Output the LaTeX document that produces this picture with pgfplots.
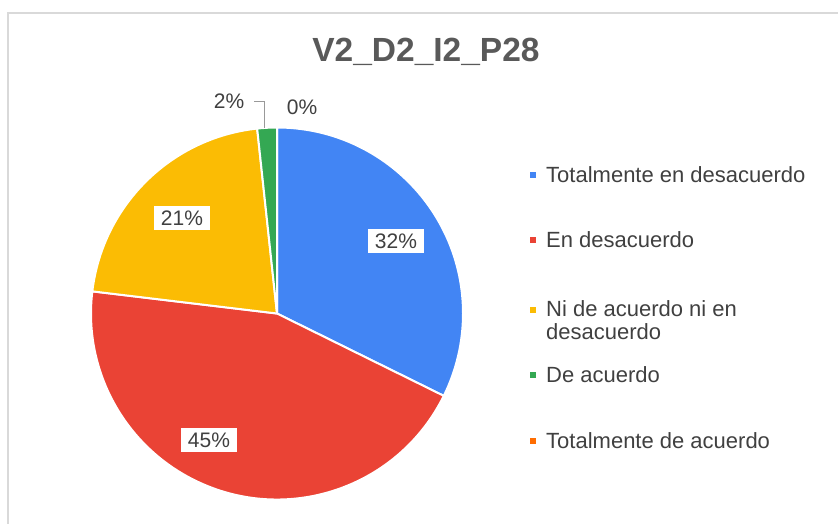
\documentclass[border=0pt]{standalone}
\usepackage{pgfplots}
\pgfplotsset{compat=1.18}
\usepackage{fontspec}
\setmainfont{Liberation Sans}
\definecolor{cBlue}{HTML}{4285F4}
\definecolor{cRed}{HTML}{EA4335}
\definecolor{cYellow}{HTML}{FBBC04}
\definecolor{cGreen}{HTML}{34A853}
\definecolor{cOrange}{HTML}{FF6D01}
\definecolor{txt}{HTML}{404040}
\definecolor{ttl}{HTML}{595959}
\definecolor{frm}{HTML}{D9D9D9}
\tikzset{
  lbl/.style={fill=white,inner xsep=6.5pt,inner ysep=5pt,text=txt,font=\fontsize{21}{24}\selectfont},
  leg/.style={anchor=base west,text=txt,font=\fontsize{22}{23}\selectfont,inner sep=0pt,align=left}}
\begin{document}
\begin{tikzpicture}
% values (percent)
\pgfmathsetmacro\vA{32.3}% Totalmente en desacuerdo
\pgfmathsetmacro\vB{44.6}% En desacuerdo
\pgfmathsetmacro\vC{21.4}% Ni de acuerdo ni en desacuerdo
\pgfmathsetmacro\vD{1.7}%  De acuerdo
\pgfmathsetmacro\vE{0.0}%  Totalmente de acuerdo
\pgfmathsetmacro\aA{90}
\pgfmathsetmacro\aB{\aA-3.6*\vA}
\pgfmathsetmacro\aC{\aB-3.6*\vB}
\pgfmathsetmacro\aD{\aC-3.6*\vC}
\pgfmathsetmacro\aE{\aD-3.6*\vD}
\def\R{186pt}
\begin{axis}[at={(0,0)},anchor=south west,
  width=838pt,height=523pt,scale only axis,hide axis,
  xmin=0,xmax=838,ymin=0,ymax=523,y dir=reverse]
% frame
\draw[frm,line width=1.6pt] (axis cs:8,540) -- (axis cs:8,12.7) -- (axis cs:860,12.7);
% slices
\fill[cBlue,draw=white,line width=2pt] (axis cs:277,313.5) -- ++(\aA:\R) arc[start angle=\aA,end angle=\aB,radius=\R] -- cycle;
\fill[cRed,draw=white,line width=2pt] (axis cs:277,313.5) -- ++(\aB:\R) arc[start angle=\aB,end angle=\aC,radius=\R] -- cycle;
\fill[cYellow,draw=white,line width=2pt] (axis cs:277,313.5) -- ++(\aC:\R) arc[start angle=\aC,end angle=\aD,radius=\R] -- cycle;
\fill[cGreen,draw=white,line width=2pt] (axis cs:277,313.5) -- ++(\aD:\R) arc[start angle=\aD,end angle=\aE,radius=\R] -- cycle;
% data labels
\node[lbl] at (axis cs:396,241) {32\%};
\node[lbl] at (axis cs:209,440) {45\%};
\node[lbl] at (axis cs:182,218) {21\%};
\draw[gray!80,line width=1pt] (axis cs:254,101) -- (axis cs:264,101) -- (axis cs:264,128);
\node[text=txt,font=\fontsize{21}{24}\selectfont,inner sep=0pt] at (axis cs:229,101) {2\%};
\node[text=txt,font=\fontsize{21}{24}\selectfont,inner sep=0pt] at (axis cs:302,107) {0\%};
% title
\node[text=ttl,font=\fontsize{33.5}{36}\bfseries\selectfont,anchor=base] at (axis cs:426,61) {V2\_D2\_I2\_P28};
% legend
\fill[cBlue] (axis cs:530,172) rectangle (axis cs:536,178);
\node[leg] at (axis cs:546,182) {Totalmente en desacuerdo};
\fill[cRed] (axis cs:530,237) rectangle (axis cs:536,243);
\node[leg] at (axis cs:546,247) {En desacuerdo};
\fill[cYellow] (axis cs:530,307) rectangle (axis cs:536,313);
\node[leg,anchor=north west] at (axis cs:546,300) {Ni de acuerdo ni en\\desacuerdo};
\fill[cGreen] (axis cs:530,372) rectangle (axis cs:536,378);
\node[leg] at (axis cs:546,382) {De acuerdo};
\fill[cOrange] (axis cs:530,438) rectangle (axis cs:536,444);
\node[leg] at (axis cs:546,448) {Totalmente de acuerdo};
\end{axis}
\pgfresetboundingbox
\useasboundingbox (0,0) rectangle (838pt,523pt);
\end{tikzpicture}
\end{document}
